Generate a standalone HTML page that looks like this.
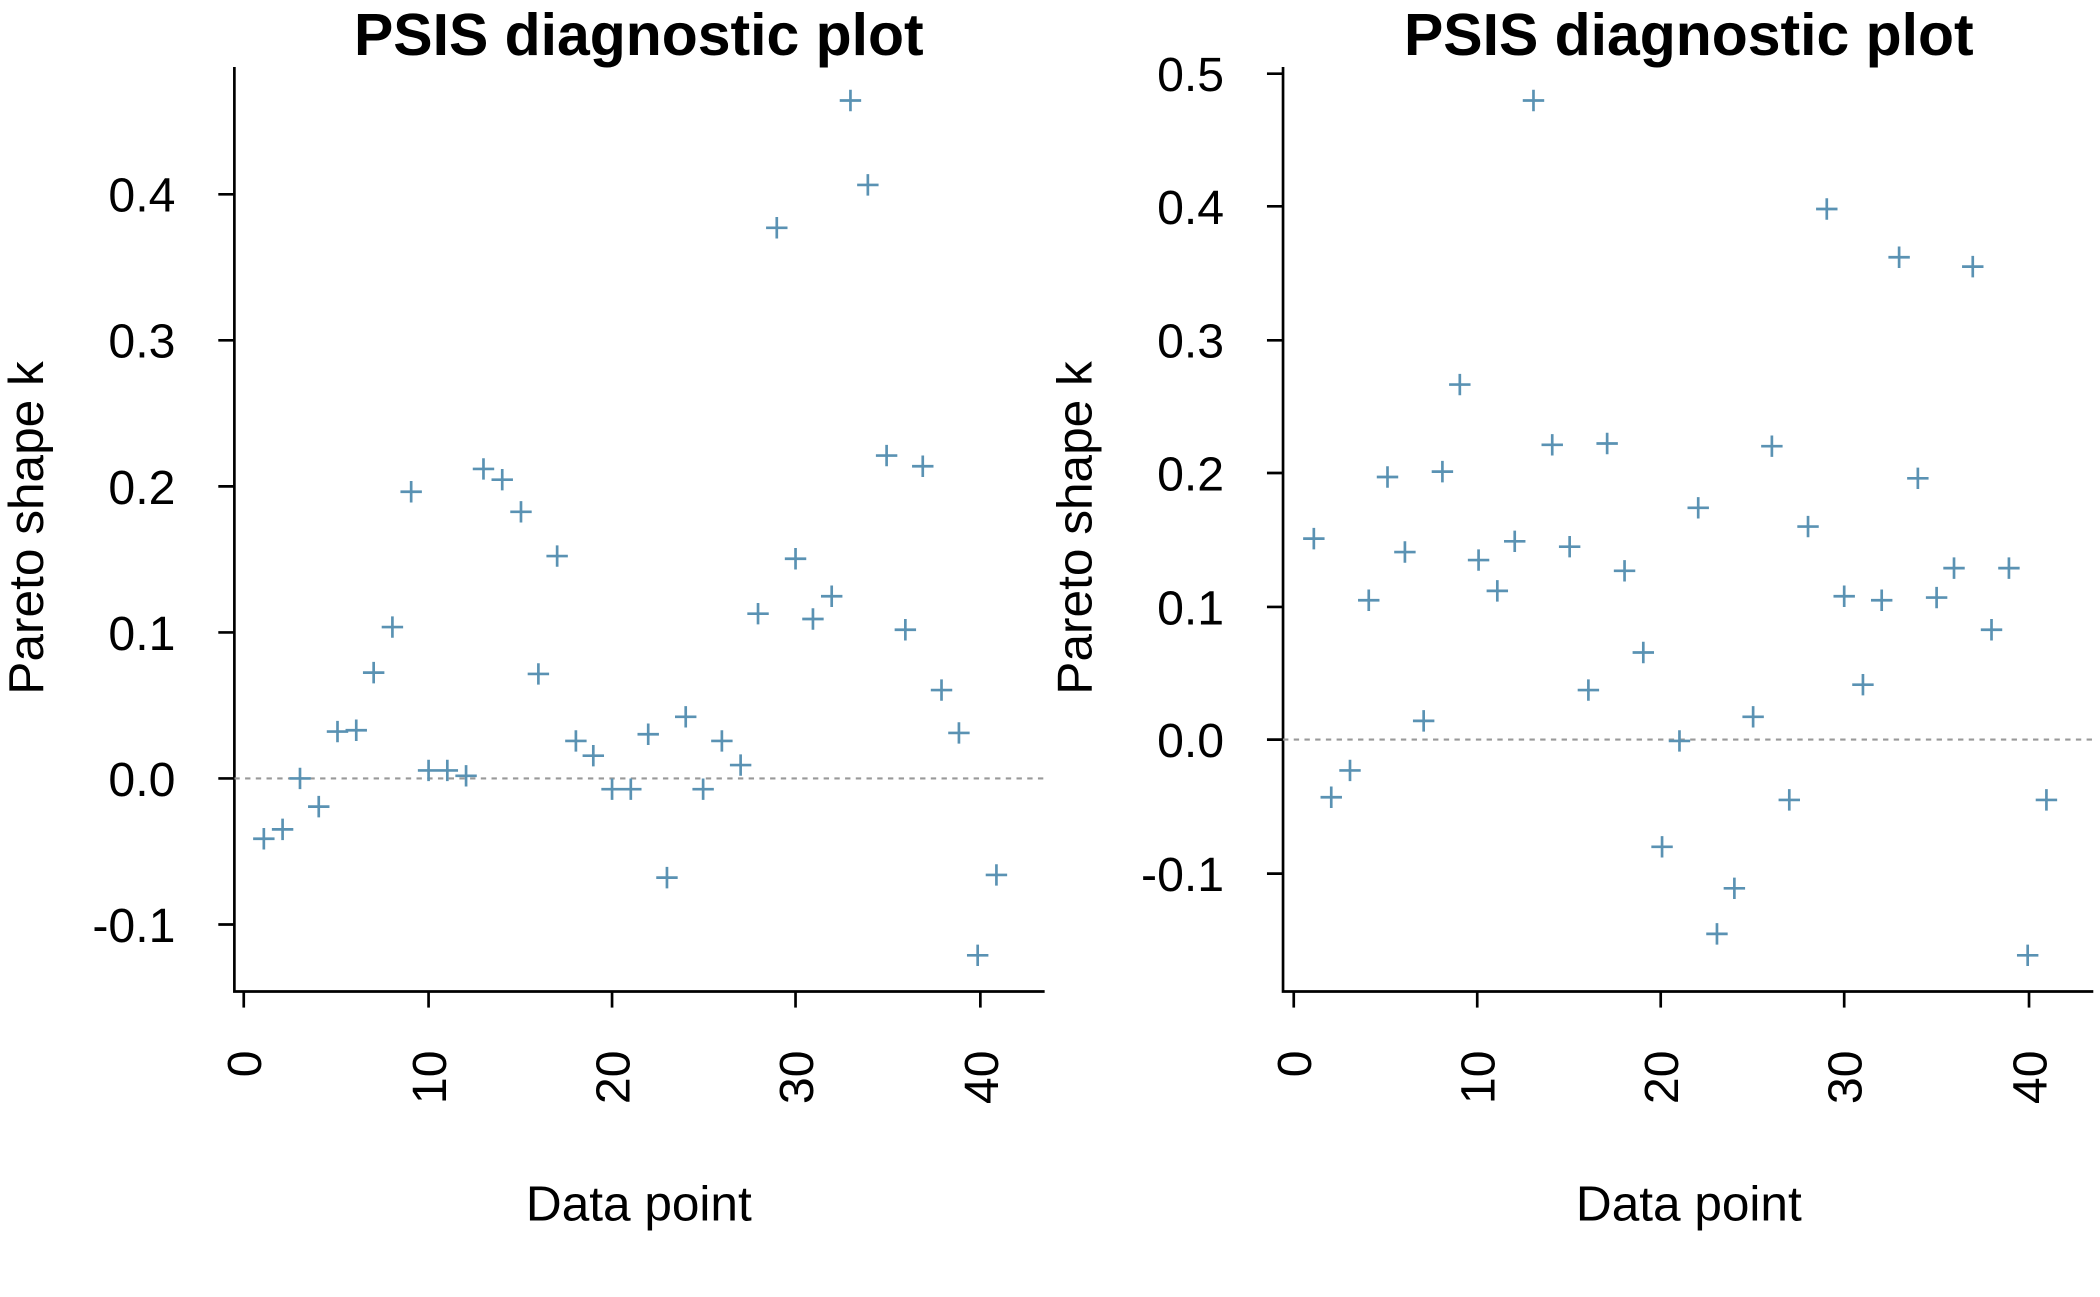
<!DOCTYPE html>
<html><head><meta charset="utf-8"><style>
html,body{margin:0;padding:0;background:#fff;}
svg{display:block;}
text{font-family:"Liberation Sans",Arial,sans-serif;fill:#000;}
</style></head><body>
<svg width="2100" height="1297" viewBox="0 0 1568 968" preserveAspectRatio="none" xmlns="http://www.w3.org/2000/svg">
<rect width="1568" height="968" fill="#fff"/>
<!-- LEFT PLOT -->
<text x="477" y="41" font-size="44" font-weight="bold" text-anchor="middle">PSIS diagnostic plot</text>
<path d="M175 50 V740 H780" fill="none" stroke="#000" stroke-width="2"/>
<line x1="175" y1="581" x2="780" y2="581" stroke="#999" stroke-width="1.6" stroke-dasharray="4,4"/>
<g stroke="#000" stroke-width="2">
<line x1="163" y1="690" x2="175" y2="690"/><line x1="163" y1="581" x2="175" y2="581"/><line x1="163" y1="472" x2="175" y2="472"/><line x1="163" y1="363" x2="175" y2="363"/><line x1="163" y1="254" x2="175" y2="254"/><line x1="163" y1="145" x2="175" y2="145"/>
<line x1="182" y1="740" x2="182" y2="752"/><line x1="320" y1="740" x2="320" y2="752"/><line x1="457" y1="740" x2="457" y2="752"/><line x1="594" y1="740" x2="594" y2="752"/><line x1="732" y1="740" x2="732" y2="752"/>
</g>
<g font-size="36" text-anchor="end">
<text x="131" y="703">-0.1</text><text x="131" y="594">0.0</text><text x="131" y="485">0.1</text><text x="131" y="376">0.2</text><text x="131" y="267">0.3</text><text x="131" y="158">0.4</text>
<text transform="translate(195,784) rotate(-90)">0</text><text transform="translate(333,784) rotate(-90)">10</text><text transform="translate(470,784) rotate(-90)">20</text><text transform="translate(607,784) rotate(-90)">30</text><text transform="translate(745,784) rotate(-90)">40</text>
</g>
<text transform="translate(32,394) rotate(-90)" font-size="37" text-anchor="middle">Pareto shape k</text>
<text x="477" y="911" font-size="37" text-anchor="middle">Data point</text>
<path stroke="#5a92b3" stroke-width="2" fill="none" d="
M189 626h16M197 618v16 M203 619h16M211 611v16 M216 581h16M224 573v16 M230 602h16M238 594v16
M244 546h16M252 538v16 M258 545h16M266 537v16 M271 502h16M279 494v16 M285 468h16M293 460v16
M299 367h16M307 359v16 M312 575h16M320 567v16 M326 575h16M334 567v16 M340 579h16M348 571v16
M353 350h16M361 342v16 M367 358h16M375 350v16 M381 382h16M389 374v16 M394 503h16M402 495v16
M408 415h16M416 407v16 M422 553h16M430 545v16 M435 564h16M443 556v16 M449 589h16M457 581v16
M463 589h16M471 581v16 M476 548h16M484 540v16 M490 655h16M498 647v16 M504 535h16M512 527v16
M517 589h16M525 581v16 M531 553h16M539 545v16 M545 571h16M553 563v16 M558 458h16M566 450v16
M572 170h16M580 162v16 M586 417h16M594 409v16 M599 462h16M607 454v16 M613 445h16M621 437v16
M627 75h16M635 67v16 M640 138h16M648 130v16 M654 340h16M662 332v16 M668 470h16M676 462v16
M681 348h16M689 340v16 M695 515h16M703 507v16 M708 547h16M716 539v16 M722 713h16M730 705v16
M736 653h16M744 645v16"/>
<!-- RIGHT PLOT -->
<text x="1261" y="41" font-size="44" font-weight="bold" text-anchor="middle">PSIS diagnostic plot</text>
<path d="M958 50 V740 H1563" fill="none" stroke="#000" stroke-width="2"/>
<line x1="958" y1="552" x2="1563" y2="552" stroke="#999" stroke-width="1.6" stroke-dasharray="4,4"/>
<g stroke="#000" stroke-width="2">
<line x1="946" y1="652" x2="958" y2="652"/><line x1="946" y1="552" x2="958" y2="552"/><line x1="946" y1="453" x2="958" y2="453"/><line x1="946" y1="353" x2="958" y2="353"/><line x1="946" y1="254" x2="958" y2="254"/><line x1="946" y1="154" x2="958" y2="154"/><line x1="946" y1="55" x2="958" y2="55"/>
<line x1="966" y1="740" x2="966" y2="752"/><line x1="1103" y1="740" x2="1103" y2="752"/><line x1="1240" y1="740" x2="1240" y2="752"/><line x1="1377" y1="740" x2="1377" y2="752"/><line x1="1515" y1="740" x2="1515" y2="752"/>
</g>
<g font-size="36" text-anchor="end">
<text x="914" y="665">-0.1</text><text x="914" y="565">0.0</text><text x="914" y="466">0.1</text><text x="914" y="366">0.2</text><text x="914" y="267">0.3</text><text x="914" y="167">0.4</text><text x="914" y="68">0.5</text>
<text transform="translate(979,784) rotate(-90)">0</text><text transform="translate(1116,784) rotate(-90)">10</text><text transform="translate(1253,784) rotate(-90)">20</text><text transform="translate(1390,784) rotate(-90)">30</text><text transform="translate(1528,784) rotate(-90)">40</text>
</g>
<text transform="translate(815,394) rotate(-90)" font-size="37" text-anchor="middle">Pareto shape k</text>
<text x="1261" y="911" font-size="37" text-anchor="middle">Data point</text>
<path stroke="#5a92b3" stroke-width="2" fill="none" d="
M973 402h16M981 394v16 M986 595h16M994 587v16 M1000 575h16M1008 567v16 M1014 448h16M1022 440v16
M1028 356h16M1036 348v16 M1041 412h16M1049 404v16 M1055 538h16M1063 530v16 M1069 352h16M1077 344v16
M1082 287h16M1090 279v16 M1096 418h16M1104 410v16 M1110 441h16M1118 433v16 M1123 404h16M1131 396v16
M1137 75h16M1145 67v16 M1151 332h16M1159 324v16 M1164 408h16M1172 400v16 M1178 515h16M1186 507v16
M1192 331h16M1200 323v16 M1205 426h16M1213 418v16 M1219 487h16M1227 479v16 M1233 632h16M1241 624v16
M1246 553h16M1254 545v16 M1260 379h16M1268 371v16 M1274 697h16M1282 689v16 M1287 663h16M1295 655v16
M1301 535h16M1309 527v16 M1315 333h16M1323 325v16 M1328 597h16M1336 589v16 M1342 393h16M1350 385v16
M1356 156h16M1364 148v16 M1369 445h16M1377 437v16 M1383 511h16M1391 503v16 M1397 448h16M1405 440v16
M1410 192h16M1418 184v16 M1424 357h16M1432 349v16 M1438 446h16M1446 438v16 M1451 424h16M1459 416v16
M1465 199h16M1473 191v16 M1479 470h16M1487 462v16 M1492 424h16M1500 416v16 M1506 713h16M1514 705v16
M1520 597h16M1528 589v16"/>
</svg>
</body></html>
